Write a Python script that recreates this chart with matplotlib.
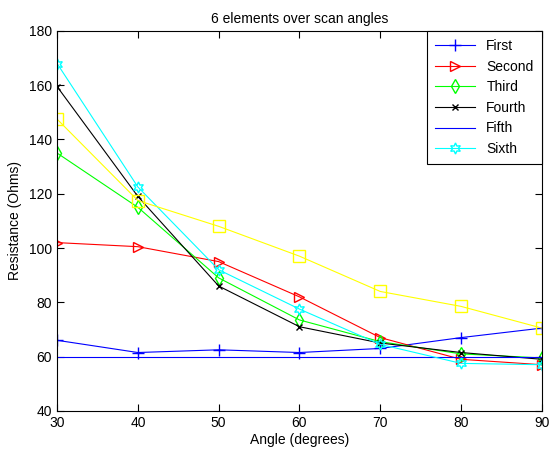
#!/usr/bin/env python3
"""Resistencia de 6 elementos sobre angulos de barrido."""

import matplotlib
matplotlib.use('Agg')
import matplotlib.pyplot as plt

plt.rcParams['font.family'] = ['Liberation Sans', 'DejaVu Sans']
plt.rcParams['font.size'] = 10

angulos = [30, 40, 50, 60, 70, 80, 90]

first = [66, 61.5, 62.5, 61.5, 63, 67, 70.5]
second = [102, 100.5, 95, 82, 67, 59, 57]
third = [135, 115, 89, 73.5, 65.5, 61, 59.5]
fourth = [159.5, 119, 86, 71, 65, 61.5, 59]
fifth = [60, 60, 60, 60, 60, 60, 60]
sixth = [168, 122.5, 92, 77.5, 64.5, 57.5, 57]
extra = [147.5, 117.5, 108, 97, 84, 78.5, 70.5]

nombres = ['First', 'Second', 'Third', 'Fourth', 'Fifth', 'Sixth']

# estrella de 6 puntas (hexagrama de MATLAB)
HEXAGRAMA = (6, 1, 0)


def main():
    fig = plt.figure(figsize=(5.49, 4.55), dpi=100)
    ax = fig.add_axes([0.104, 0.097, 0.883, 0.835])

    ax.plot(angulos, first, color='#0000ff', marker='+', ms=8, lw=0.8,
            label=nombres[0])
    ax.plot(angulos, second, color='#ff0000', marker='>', ms=7, mfc='none',
            lw=0.8, label=nombres[1])
    ax.plot(angulos, third, color='#00ff00', marker='d', ms=7, mfc='none',
            lw=0.8, label=nombres[2])
    ax.plot(angulos, fourth, color='black', marker='x', ms=5, lw=0.8,
            label=nombres[3])
    ax.plot(angulos, fifth, color='#0000ff', lw=0.8, label=nombres[4])
    ax.plot(angulos, sixth, color='#00ffff', marker=HEXAGRAMA, ms=8,
            mfc='none', lw=0.8, label=nombres[5])
    ax.plot(angulos, extra, color='#ffff00', marker='s', ms=8, mfc='none',
            lw=0.8, label='_nolegend_')

    ax.set_xlim(30, 90)
    ax.set_ylim(40, 180)
    ax.set_xticks(range(30, 91, 10))
    ax.set_yticks(range(40, 181, 20))
    ax.tick_params(direction='in', top=True, right=True, length=5, width=0.8)
    for s in ax.spines.values():
        s.set_linewidth(0.8)

    ax.set_title('6 elements over scan angles', fontsize=10, pad=6)
    ax.set_xlabel('Angle (degrees)', labelpad=2)
    ax.set_ylabel('Resistance (Ohms)', labelpad=5)

    leg = ax.legend(loc='upper right', borderaxespad=0, fancybox=False,
                    edgecolor='black', framealpha=1, handlelength=2.9,
                    labelspacing=0.47, borderpad=0.6)
    leg.get_frame().set_linewidth(0.8)

    fig.savefig('out.png', dpi=100)
    plt.close(fig)


if __name__ == "__main__":
    main()
